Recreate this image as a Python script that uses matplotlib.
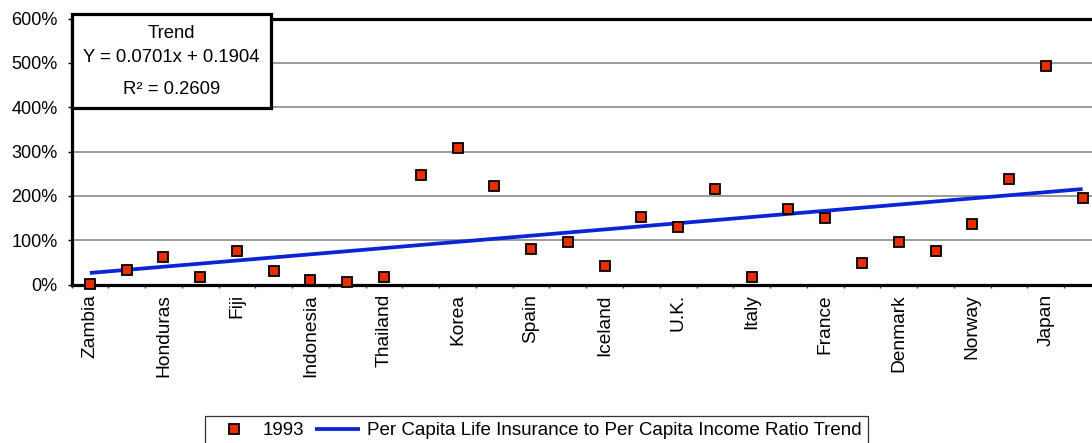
import numpy as np
import matplotlib
matplotlib.use("Agg")
import matplotlib.pyplot as plt
from matplotlib.patches import Rectangle
from matplotlib.ticker import PercentFormatter, FixedLocator, NullFormatter

plt.rcParams["font.family"] = ["Liberation Sans", "DejaVu Sans"]

# Ratio of per capita life insurance to per capita income, 1993 (1.0 = 100%)
ratio_1993 = [0.01, 0.32, 0.62, 0.17, 0.75, 0.30, 0.11, 0.06, 0.18, 2.48,
              3.07, 2.23, 0.80, 0.95, 0.41, 1.52, 1.30, 2.16, 0.17, 1.70,
              1.49, 0.49, 0.95, 0.76, 1.37, 2.37, 4.93, 1.96]

# Every second country is labelled on the category axis
labelled_countries = ["Zambia", "Honduras", "Fiji", "Indonesia", "Thailand",
                      "Korea", "Spain", "Iceland", "U.K.", "Italy", "France",
                      "Denmark", "Norway", "Japan"]

# Linear trend fitted over the category index (x = 1 .. n)
trend_slope = 0.0701
trend_intercept = 0.1904
trend_r2 = 0.2609

series_label = "1993"
trend_label = "Per Capita Life Insurance to Per Capita Income Ratio Trend"

W, H = 1092, 443
fig = plt.figure(figsize=(W / 100, H / 100), dpi=100)
fig.patch.set_facecolor("white")

left_px, right_px, top_px, bottom_px = 71.5, 1101, 18.5, 284.5
ax = fig.add_axes([left_px / W, 1 - bottom_px / H,
                   (right_px - left_px) / W, (bottom_px - top_px) / H])

n = len(ratio_1993)
x = np.arange(1, n + 1)

# Trend line
trend_x = np.array([x[0], x[-1]])
trend_y = trend_slope * trend_x + trend_intercept
ax.plot(trend_x, trend_y, color="#0A24D8", lw=2.7, zorder=3,
        solid_capstyle="butt", label=trend_label)

# Data points
ax.plot(x, ratio_1993, ls="none", marker="s", markersize=6.5,
        markerfacecolor="#E62E00", markeredgecolor="black",
        markeredgewidth=1.3, zorder=4, clip_on=False, label=series_label)

ax.set_xlim(0.5, n + 0.5)
ax.set_ylim(0, 6)

# Y axis
ax.yaxis.set_major_locator(FixedLocator(np.arange(0, 7, 1)))
ax.yaxis.set_major_formatter(PercentFormatter(xmax=1, decimals=0))
ax.tick_params(axis="y", direction="out", length=3, width=1.0,
               color="black", labelsize=13, pad=7)
ax.yaxis.grid(True, color="#808080", lw=1.1)
ax.set_axisbelow(True)

# X axis: labels on every other category, tick marks between categories
ax.xaxis.set_major_locator(FixedLocator(x[::2]))
ax.set_xticklabels(labelled_countries, rotation=90, fontsize=13.8)
ax.xaxis.set_minor_locator(FixedLocator(np.arange(0.5, n + 1, 1)))
ax.xaxis.set_minor_formatter(NullFormatter())
ax.tick_params(axis="x", which="major", length=0, pad=7)
ax.tick_params(axis="x", which="minor", direction="out", length=2.5,
               width=1.0, color="#404040")

for side in ("left", "top", "bottom"):
    ax.spines[side].set_linewidth(2.3)
    ax.spines[side].set_color("black")
ax.spines["right"].set_visible(False)

# Trend equation box
bx0, bx1, by0, by1 = 71.5, 271, 14, 108
box = Rectangle((bx0 / W, 1 - by1 / H), (bx1 - bx0) / W, (by1 - by0) / H,
                transform=fig.transFigure, facecolor="white",
                edgecolor="black", lw=2.3, zorder=10)
fig.add_artist(box)
cx = (bx0 + bx1) / 2 / W
fig.text(cx, 1 - 33 / H, "Trend", ha="center", va="center",
         fontsize=13.3, zorder=11)
fig.text(cx, 1 - 58 / H,
         f"Y = {trend_slope:.4f}x + {trend_intercept:.4f}",
         ha="center", va="center", fontsize=13.3, zorder=11)
fig.text(cx, 1 - 89 / H, f"R\u00b2 = {trend_r2:.4f}", ha="center",
         va="center", fontsize=13.3, zorder=11)

# Legend
handles, labels = ax.get_legend_handles_labels()
order = [1, 0]
leg = fig.legend([handles[i] for i in order], [labels[i] for i in order],
                 loc="upper left", bbox_to_anchor=(204.5 / W, 1 - 415.5 / H),
                 ncol=2, fontsize=13.5, frameon=True, fancybox=False,
                 edgecolor="black", borderpad=0.35, borderaxespad=0,
                 handlelength=2.4, handletextpad=0.35, columnspacing=0.6)
leg.get_frame().set_linewidth(0.9)

fig.savefig("out.png", dpi=100, facecolor="white")
